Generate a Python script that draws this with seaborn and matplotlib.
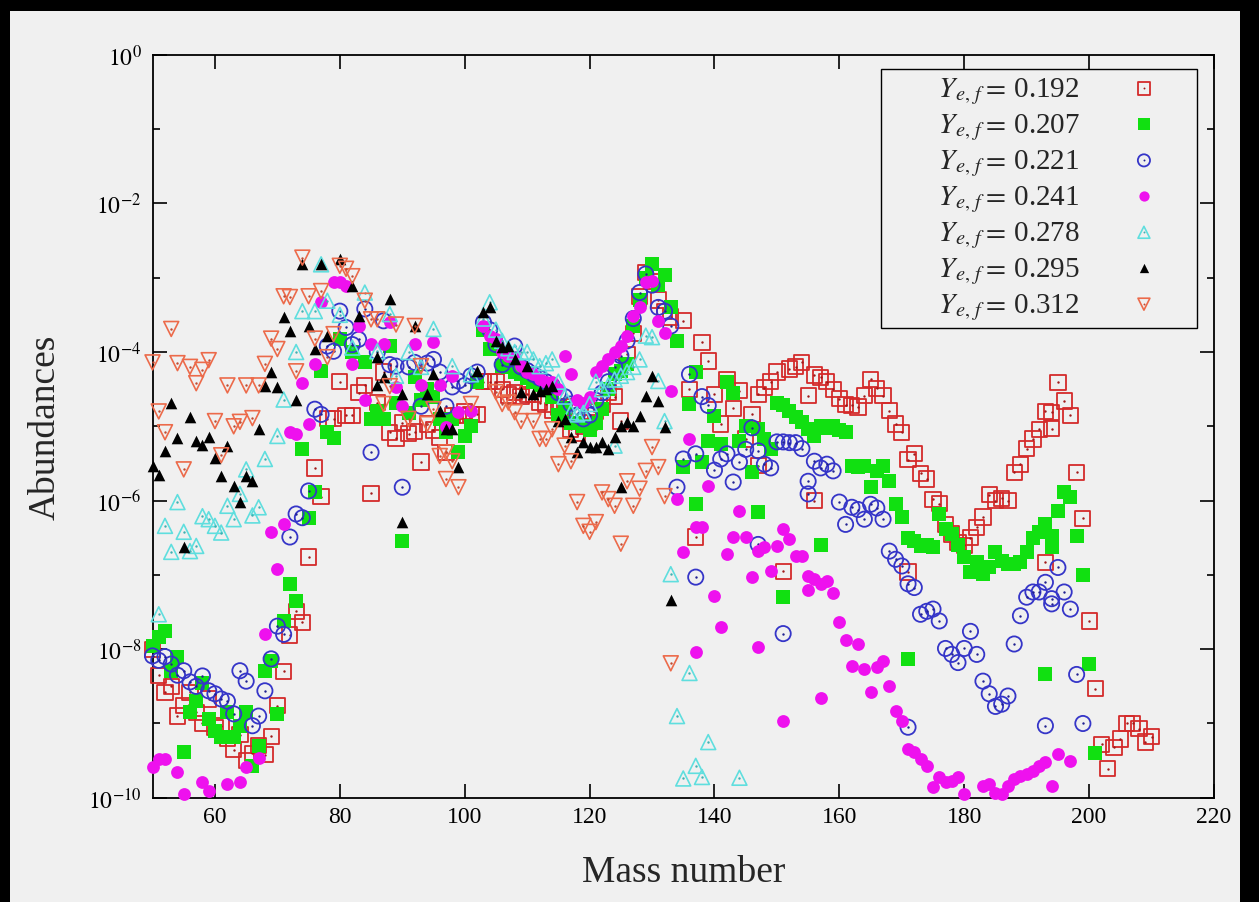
import numpy as np
import pandas as pd
import matplotlib
matplotlib.use("Agg")
import matplotlib.pyplot as plt
import seaborn as sns
from matplotlib.patches import Rectangle
from matplotlib.legend_handler import HandlerTuple
from matplotlib.ticker import FixedLocator, NullFormatter, FuncFormatter

# ---------------- data: (mass number, log10 abundance) -------------
pts_192 = [
(50,-8.0),(51,-8.35),(52,-8.58),(53,-8.5),(54,-8.9),(55,-8.76),(56,-8.58),(57,-8.85),(58,-9.0),(59,-8.67),
(60,-9.05),(61,-9.03),(62,-9.2),(63,-9.35),(64,-9.15),(65,-9.5),(66,-9.4),(67,-9.3),(68,-9.42),(69,-9.17),
(70,-8.76),(71,-8.3),(72,-7.81),(73,-7.49),(74,-7.64),(75,-6.76),(76,-5.56),(77,-5.95),(78,-4.9),(79,-4.9),
(80,-4.4),(81,-4.85),(82,-4.85),(83,-4.55),(84,-4.45),(85,-5.9),(86,-4.68),(87,-4.27),(88,-5.08),(89,-5.16),
(90,-4.95),(91,-5.1),(92,-5.07),(93,-5.48),(94,-4.97),(95,-5.05),(96,-5.15),(97,-5.35),(98,-4.85),(99,-4.85),
(100,-4.8),(101,-4.84),(102,-4.84),(103,-4.4),(104,-4.4),(105,-4.4),(106,-4.5),(107,-4.58),(108,-4.55),(109,-4.6),
(110,-4.57),(111,-4.57),(112,-4.68),(113,-4.7),(114,-4.79),(115,-4.75),(116,-4.74),(117,-5.04),(118,-5.1),(119,-5.0),
(120,-4.95),(121,-4.8),(122,-4.7),(123,-4.55),(124,-4.6),(125,-4.93),(126,-4.03),(127,-3.75),(128,-3.25),(129,-2.93),
(130,-3.05),(131,-3.3),(132,-3.45),(133,-3.53),(135,-3.58),(136,-4.5),(137,-6.49),(138,-3.87),(139,-4.12),
(140,-4.57),(141,-4.97),(142,-4.37),(143,-4.76),(144,-4.52),(145,-5.17),(146,-4.84),(147,-4.57),(148,-4.48),(149,-4.4),
(150,-4.27),(151,-6.95),(152,-4.23),(153,-4.2),(154,-4.14),(155,-4.59),(156,-4.31),(157,-4.34),(158,-4.4),(159,-4.5),
(160,-4.63),(161,-4.71),(162,-4.72),(163,-4.74),(164,-4.59),(165,-4.37),(166,-4.49),(167,-4.59),(168,-4.79),(169,-4.97),
(170,-5.08),(171,-5.45),(172,-5.37),(173,-5.63),(174,-5.71),(175,-5.98),(176,-6.04),(177,-6.32),(178,-6.45),(179,-6.56),
(180,-6.6),(181,-6.5),(182,-6.36),(183,-6.22),(184,-5.92),(185,-6.0),(186,-5.97),(187,-6.0),(188,-5.62),(189,-5.51),
(190,-5.3),(191,-5.17),(192,-5.04),(193,-4.8),(194,-4.81),(195,-4.41),(196,-4.66),(197,-4.85),(198,-5.62),(199,-6.24),
(200,-7.62),(201,-8.53),(202,-9.28),(203,-9.61),(204,-9.32),(205,-9.21),(206,-9.0),(207,-9.0),(208,-9.07),(209,-9.25),
(210,-9.18),(147,-5.53),(156,-6.0),(171,-6.96),(193,-6.83),(194,-5.03)]

pts_207 = [
(50,-7.96),(51,-7.84),(52,-7.76),(53,-8.3),(54,-8.1),(55,-9.39),(56,-8.84),(57,-8.7),(58,-8.45),(59,-8.94),
(60,-9.1),(61,-9.18),(62,-8.85),(63,-9.18),(64,-9.03),(65,-8.85),(66,-9.57),(67,-9.3),(68,-8.3),(69,-8.16),
(70,-8.87),(71,-7.62),(72,-7.12),(73,-7.35),(74,-5.3),(75,-6.23),(76,-5.89),(77,-4.26),(78,-5.08),(79,-5.16),
(80,-3.83),(82,-4.0),(84,-4.14),(85,-4.9),(86,-4.8),(87,-4.9),(88,-3.92),(89,-4.68),
(90,-6.55),(91,-4.82),(92,-4.33),(93,-4.64),(94,-4.5),(95,-4.6),(96,-4.9),(97,-5.08),(98,-4.9),(99,-5.35),
(100,-5.13),(101,-5.0),(102,-4.4),(103,-3.7),(104,-3.96),(105,-3.9),(106,-4.19),(107,-4.2),(108,-4.27),(109,-4.3),
(110,-4.35),(111,-4.41),(112,-4.45),(113,-4.5),(114,-4.6),(115,-4.85),(116,-4.75),(117,-4.95),(118,-4.95),(119,-5.0),
(120,-5.05),(121,-4.95),(122,-4.77),(123,-4.5),(124,-4.3),(125,-4.25),(126,-4.16),(127,-3.65),(128,-3.3),(129,-3.0),
(130,-2.82),(131,-3.1),(132,-2.97),(133,-3.4),(134,-3.85),(135,-5.55),(136,-4.7),(137,-4.27),(138,-5.48),(139,-5.2),
(140,-4.86),(141,-5.24),(142,-4.41),(143,-4.55),(144,-5.2),(145,-5.0),(146,-5.62),(147,-5.04),(148,-5.17),(149,-5.3),
(150,-4.68),(151,-4.72),(152,-4.79),(153,-4.88),(154,-4.94),(155,-5.04),(156,-5.13),(157,-5.0),(158,-5.02),(159,-5.0),
(160,-5.05),(161,-5.08),(162,-5.53),(163,-5.55),(164,-5.53),(165,-5.82),(166,-5.6),(167,-5.53),(168,-5.74),(169,-6.05),
(170,-6.22),(171,-6.5),(172,-6.55),(173,-6.61),(174,-6.6),(175,-6.63),(176,-6.18),(177,-6.38),(178,-6.45),(179,-6.6),
(180,-6.76),(181,-6.96),(182,-6.83),(183,-6.99),(184,-6.9),(185,-6.69),(186,-6.81),(187,-6.85),(188,-6.85),(189,-6.83),
(190,-6.69),(191,-6.5),(192,-6.42),(193,-6.32),(194,-6.47),(195,-6.14),(196,-5.89),(197,-5.95),(198,-6.47),(199,-7.0),
(200,-8.2),(201,-9.4),(137,-6.05),(147,-6.16),(151,-7.3),(157,-6.6),(171,-8.13),(193,-8.33),(194,-6.62)]

pts_221 = [
(50,-8.09),(51,-8.15),(52,-8.1),(53,-8.2),(54,-8.35),(55,-8.29),(56,-8.44),(57,-8.5),(58,-8.36),(59,-8.56),
(60,-8.6),(61,-8.67),(62,-8.7),(63,-8.87),(64,-8.29),(65,-8.43),(66,-9.03),(67,-8.9),(68,-8.56),(69,-8.13),
(70,-7.69),(71,-7.8),(72,-6.49),(73,-6.18),(74,-6.23),(75,-5.87),(76,-4.77),(77,-4.84),(78,-3.92),(79,-3.99),
(80,-3.45),(81,-3.67),(82,-3.9),(83,-3.83),(84,-3.42),(85,-5.35),(86,-4.0),(87,-3.58),(88,-4.17),(89,-4.19),
(90,-5.82),(91,-4.2),(92,-4.14),(93,-4.73),(94,-4.15),(95,-4.1),(96,-4.27),(97,-4.73),(98,-4.47),(99,-4.39),
(100,-4.45),(101,-4.32),(102,-4.27),(103,-3.6),(104,-3.7),(105,-3.9),(106,-4.17),(107,-4.1),(108,-3.92),(109,-4.2),
(110,-4.25),(111,-4.3),(112,-4.35),(113,-4.4),(114,-4.45),(115,-4.55),(116,-4.6),(117,-4.7),(118,-4.85),(119,-4.9),
(120,-4.85),(121,-4.65),(122,-4.55),(123,-4.4),(124,-4.2),(125,-4.05),(126,-3.85),(127,-3.55),(128,-3.2),(129,-2.95),
(130,-3.1),(131,-3.4),(132,-3.45),(133,-3.65),(134,-5.82),(135,-5.44),(136,-4.3),(137,-5.37),(138,-4.6),(139,-4.72),
(140,-5.59),(141,-5.44),(142,-5.37),(143,-5.75),(144,-5.48),(145,-5.31),(146,-5.02),(147,-5.33),(148,-5.51),(149,-5.56),
(150,-5.21),(151,-5.21),(152,-5.22),(153,-5.22),(154,-5.3),(155,-5.74),(156,-5.47),(157,-5.56),(158,-5.51),(159,-5.6),
(160,-6.02),(161,-6.32),(162,-6.09),(163,-6.12),(164,-6.25),(165,-6.05),(166,-6.1),(167,-6.25),(168,-6.68),(169,-6.79),
(170,-6.88),(171,-7.12),(172,-7.17),(173,-7.53),(174,-7.49),(175,-7.46),(176,-7.62),(177,-7.99),(178,-8.07),(179,-8.18),
(180,-7.99),(181,-7.76),(182,-8.07),(183,-8.43),(184,-8.6),(185,-8.77),(186,-8.74),(187,-8.63),(188,-7.93),(189,-7.55),
(190,-7.3),(191,-7.23),(192,-7.23),(193,-7.1),(194,-7.32),(195,-6.9),(196,-7.23),(197,-7.46),(198,-8.34),(199,-9.0),
(137,-7.03),(147,-6.59),(151,-7.79),(155,-5.91),(171,-9.05),(193,-9.03),(194,-7.39)]

pts_241 = [
(50,-9.59),(51,-9.48),(52,-9.48),(54,-9.65),(55,-9.95),(58,-9.79),(59,-9.91),(62,-9.81),(64,-9.79),(65,-9.59),
(67,-9.46),(68,-7.8),(69,-6.42),(70,-6.92),(71,-6.31),(72,-5.07),(73,-5.11),(74,-4.42),(75,-4.97),(76,-4.16),
(77,-3.33),(79,-3.06),(80,-3.06),(81,-3.11),(82,-4.16),(83,-3.65),(84,-4.64),(85,-3.89),(87,-3.89),(88,-3.6),
(89,-4.47),(90,-4.73),(92,-3.89),(93,-4.45),(95,-3.86),(96,-4.45),(97,-5.01),(98,-4.32),(99,-4.81),(101,-4.79),
(103,-3.65),(104,-3.78),(105,-3.82),(106,-4.0),(107,-4.05),(108,-4.07),(109,-4.19),(110,-4.27),(111,-4.3),(112,-4.37),
(113,-4.4),(114,-4.41),(115,-4.5),(116,-4.05),(117,-4.3),(118,-4.64),(119,-4.68),(120,-4.6),(121,-4.27),(122,-4.19),
(123,-4.1),(124,-4.0),(125,-3.92),(126,-3.78),(127,-3.52),(128,-3.4),(129,-3.06),(130,-3.04),(131,-3.58),(132,-3.75),
(133,-4.52),(134,-5.98),(135,-6.69),(136,-5.17),(137,-6.36),(138,-6.36),(139,-5.8),(140,-7.28),(141,-7.7),(142,-6.72),
(143,-6.49),(144,-6.14),(145,-6.49),(146,-7.03),(147,-6.68),(148,-6.63),(149,-6.95),(150,-6.61),(151,-6.38),(152,-6.52),
(153,-6.75),(154,-6.75),(155,-7.02),(156,-7.06),(157,-7.12),(158,-7.08),(159,-7.24),(160,-7.63),(161,-7.87),(162,-8.23),
(163,-7.93),(164,-8.27),(165,-8.58),(166,-8.24),(167,-8.16),(168,-8.5),(169,-8.83),(170,-8.97),(171,-9.34),(172,-9.38),
(173,-9.48),(174,-9.57),(175,-9.86),(176,-9.72),(177,-9.79),(178,-9.77),(179,-9.72),(180,-9.95),(183,-9.84),(184,-9.81),
(185,-9.93),(186,-9.95),(187,-9.84),(188,-9.75),(189,-9.7),(190,-9.68),(191,-9.64),(192,-9.57),(193,-9.52),(194,-9.84),
(195,-9.41),(197,-9.5),(137,-8.04),(147,-7.97),(151,-8.97),(157,-8.66),(155,-7.2)]

pts_278 = [
(51,-7.53),(52,-6.34),(53,-6.69),(54,-6.02),(55,-6.42),(56,-6.68),(57,-6.61),(58,-6.21),(59,-6.25),(60,-6.34),
(61,-6.43),(62,-6.07),(63,-6.25),(64,-5.91),(65,-5.58),(66,-6.2),(67,-6.09),(68,-5.44),(70,-5.13),(71,-4.64),
(73,-4.0),(74,-3.45),(76,-3.45),(77,-2.82),(78,-3.31),(80,-3.5),(82,-3.94),(84,-3.2),(86,-3.99),(88,-3.49),
(89,-4.32),(91,-4.0),(93,-4.2),(95,-3.69),(98,-4.19),(101,-4.3),(103,-3.55),(104,-3.33),(105,-3.7),(106,-3.85),
(107,-3.95),(108,-4.0),(109,-4.0),(110,-4.0),(111,-4.1),(112,-4.19),(113,-4.15),(114,-4.1),(115,-4.4),(116,-4.6),
(117,-4.81),(118,-4.84),(119,-4.82),(120,-4.7),(121,-4.4),(122,-4.5),(123,-4.45),(124,-4.37),(125,-4.32),(126,-4.27),
(127,-4.2),(128,-4.1),(129,-3.78),(130,-3.8),(131,-4.39),(132,-4.93),(133,-6.99),(134,-8.9),(135,-9.74),(136,-8.32),
(137,-9.57),(138,-9.72),(139,-9.25),(144,-9.73),(124,-5.26)]

pts_295 = [
(50,-5.53),(51,-5.65),(52,-5.33),(53,-4.69),(54,-5.16),(55,-6.63),(56,-4.88),(57,-5.2),(58,-5.25),(59,-5.15),
(60,-5.42),(61,-5.67),(62,-5.26),(63,-5.8),(64,-6.02),(65,-5.67),(66,-5.74),(67,-5.03),(68,-4.46),(69,-4.27),
(70,-4.47),(71,-3.53),(72,-3.72),(73,-4.64),(74,-2.82),(75,-3.65),(76,-3.96),(77,-2.82),(78,-3.78),(80,-2.75),
(82,-3.11),(83,-3.51),(86,-4.07),(87,-4.34),(88,-3.29),(90,-6.29),(92,-3.65),(94,-4.57),(95,-4.3),(96,-4.79),
(97,-5.04),(98,-5.04),(99,-5.55),(90,-4.57),(102,-4.25),(103,-3.46),(104,-3.4),(105,-3.85),(106,-3.93),(107,-3.92),
(108,-4.1),(109,-4.54),(110,-4.19),(111,-4.57),(112,-4.52),(113,-4.5),(114,-4.46),(115,-4.93),(116,-4.9),(117,-5.15),
(118,-5.35),(119,-5.21),(120,-5.28),(121,-5.28),(122,-5.21),(123,-5.31),(124,-5.15),(125,-5.0),(126,-4.94),(127,-5.0),
(128,-4.86),(129,-4.59),(130,-4.32),(131,-4.66),(132,-5.01),(133,-7.34),(125,-5.82),(86,-4.45)]

pts_312 = [
(50,-4.14),(51,-4.8),(52,-5.08),(53,-3.69),(54,-4.15),(55,-5.58),(56,-4.2),(57,-4.42),(58,-4.24),(59,-4.11),
(60,-4.93),(61,-5.39),(62,-4.45),(63,-5.0),(64,-4.94),(65,-4.45),(66,-4.89),(67,-4.45),(68,-4.16),(69,-3.82),
(70,-3.96),(71,-3.25),(72,-3.26),(73,-4.26),(74,-2.73),(75,-3.25),(76,-3.82),(77,-3.18),(78,-4.07),(79,-3.76),
(80,-2.84),(81,-2.88),(82,-2.98),(84,-3.31),(85,-3.56),(86,-3.56),(87,-4.7),(88,-4.46),(89,-3.63),(91,-4.9),
(92,-3.65),(93,-4.19),(94,-4.97),(95,-4.77),(96,-5.4),(97,-5.71),(98,-5.47),(99,-5.82),(101,-4.7),(105,-4.54),
(106,-4.7),(107,-4.68),(108,-4.81),(109,-4.93),(111,-4.93),(112,-5.17),(113,-5.17),(114,-5.04),(115,-5.51),(116,-5.26),
(117,-5.47),(118,-6.02),(119,-6.34),(120,-6.42),(121,-6.29),(122,-5.89),(123,-5.98),(124,-6.07),(125,-6.58),(126,-5.74),
(127,-6.07),(128,-5.84),(129,-5.6),(130,-5.28),(131,-5.55),(132,-5.94),(133,-8.19),(97,-5.35)]

ye_labels = ["0.192", "0.207", "0.221", "0.241", "0.278", "0.295", "0.312"]
series = [pts_192, pts_207, pts_221, pts_241, pts_278, pts_295, pts_312]

x_ticks = [60, 80, 100, 120, 140, 160, 180, 200, 220]

# ---------------- styles --------------------------------------------------------------
# marker, facecolor, edgecolor, size, linewidth, centre dot colour
styles = [
    ("s", "none", "#d42a2a", 120, 1.3, "#a01818"),
    ("s", "#11e011", "#11e011", 105, 0.0, None),
    ("o", "none", "#3535c8", 120, 1.3, "#202090"),
    ("o", "#ee11ee", "#ee11ee", 85, 0.0, None),
    ("^", "none", "#5fdede", 115, 1.2, "#3fb0b0"),
    ("^", "black", "black", 70, 0.0, None),
    ("v", "none", "#ec6a4a", 115, 1.2, "#c04a30"),
]

BG = "#f0f0f0"
sns.set_style("ticks")
plt.rcParams["font.family"] = ["Liberation Serif", "DejaVu Serif"]
plt.rcParams["mathtext.fontset"] = "stix"

W, H = 1259, 903
fig = plt.figure(figsize=(W / 100, H / 100), dpi=100, facecolor="black")
fig.patches.append(Rectangle((10 / W, 0), (1240 - 10) / W, (H - 12) / H,
                             transform=fig.transFigure, facecolor=BG,
                             edgecolor="none", zorder=-10))
ax = fig.add_axes([152.5 / W, 1 - 798.8 / H, (1214 - 152.5) / W, (798.8 - 55.8) / H])
ax.set_zorder(1)
ax.set_facecolor(BG)

handles, labels = [], []
for i, (pts, lab, st) in enumerate(zip(series, ye_labels, styles)):
    marker, fc, ec, size, lw, dot = st
    df = pd.DataFrame({"A": [p[0] for p in pts],
                       "Y": 10.0 ** np.array([p[1] for p in pts])})
    n0 = len(ax.collections)
    sns.scatterplot(data=df, x="A", y="Y", ax=ax, marker=marker, s=size,
                    facecolor=fc, edgecolor=ec, linewidth=lw,
                    legend=False, zorder=3 + i * 0.1, clip_on=False)
    main = ax.collections[n0]
    h = main
    if dot is not None:
        sns.scatterplot(data=df, x="A", y="Y", ax=ax, marker="o", s=3,
                        color=dot, edgecolor=dot, linewidth=0,
                        legend=False, zorder=3.05 + i * 0.1, clip_on=False)
        h = (main, ax.collections[-1])
    handles.append(h)
    labels.append("       " + r"$Y_{e,\,f}{=}\,$" + lab)

ax.set_yscale("log")
ax.set_xlim(50, 220)
ax.set_ylim(1e-10, 1)
ax.xaxis.set_major_locator(FixedLocator(x_ticks))
ax.xaxis.set_minor_locator(FixedLocator([]))
ax.yaxis.set_major_locator(FixedLocator([10.0 ** k for k in range(-10, 1, 2)]))
ax.yaxis.set_minor_locator(FixedLocator([10.0 ** k for k in range(-9, 0, 2)]))
ax.yaxis.set_minor_formatter(NullFormatter())
ax.yaxis.set_major_formatter(FuncFormatter(lambda v, p: r"$10^{%d}$" % int(round(np.log10(v)))))

ax.tick_params(which="both", direction="in", top=True, right=True,
               width=1.2, colors="black", labelsize=17)
ax.tick_params(which="major", length=10)
ax.tick_params(which="minor", length=5)
ax.tick_params(axis="x", pad=6)
ax.tick_params(axis="y", pad=8)
for sp in ax.spines.values():
    sp.set_linewidth(1.3)
    sp.set_color("black")

ax.set_xlabel("Mass number", fontsize=27, labelpad=20)
ax.set_ylabel("Abundances", fontsize=27, labelpad=18)

leg = ax.legend(handles, labels, loc="upper right", bbox_to_anchor=(0.984, 0.981),
                markerfirst=False, frameon=True, fancybox=False, framealpha=1,
                facecolor=BG, edgecolor="black", fontsize=21, scatterpoints=1,
                markerscale=0.8,
                handler_map={tuple: HandlerTuple(ndivide=1, pad=0)},
                handlelength=3.2, handletextpad=0.6, borderpad=0.22,
                labelspacing=0.18, borderaxespad=0)
leg.get_frame().set_linewidth(1.0)
leg.set_zorder(10)

fig.savefig("out.png", dpi=100, facecolor=fig.get_facecolor())
